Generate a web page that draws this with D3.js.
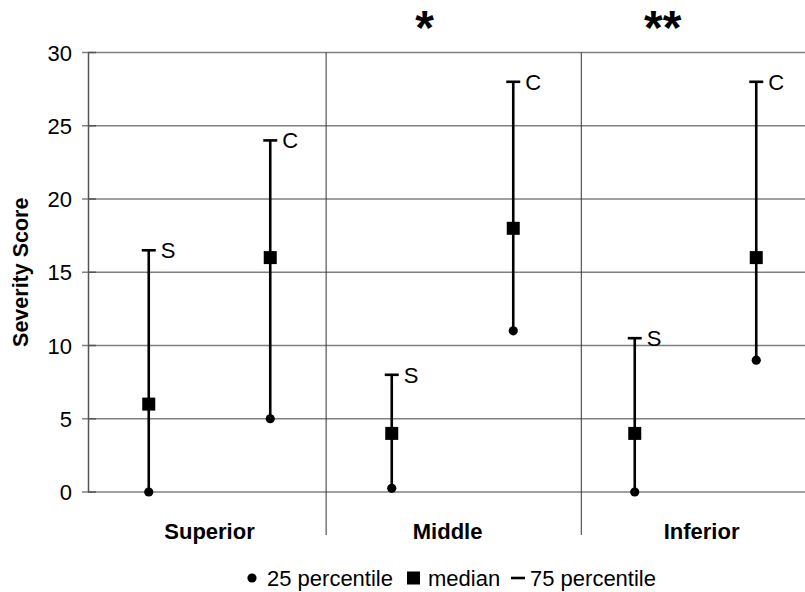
<!DOCTYPE html>
<html>
<head>
  <meta charset="utf-8">
  <script src="https://d3js.org/d3.v7.min.js"></script>
  <style>
    body { margin: 0; background: #fff; }
    svg text { font-family: Arial, "Liberation Sans", sans-serif; fill: #000; }
  </style>
</head>
<body>
<script>
  // locations and groups
  var regions = ["Superior", "Middle", "Inferior"];
  var groups = ["S", "C"];
  // one entry per point, order: Superior S, Superior C, Middle S, Middle C, Inferior S, Inferior C
  var p25 = [0, 5, 0.25, 11, 0, 9];
  var median = [6, 16, 4, 18, 4, 16];
  var p75 = [16.5, 24, 8, 28, 10.5, 28];
  var yTicks = [0, 5, 10, 15, 20, 25, 30];
  // hand-drawn extras, in category-slot units
  var dividers = [1.96, 4.06];
  var regionPos = [1.0, 2.96, 5.05];
  var stars = [{pos: 2.77, text: "*"}, {pos: 4.73, text: "**"}];

  var width = 805, height = 592;
  var margin = {top: 52.5, left: 88, bottom: 100, right: -12};

  var svg = d3.select("body").append("svg")
    .attr("width", width).attr("height", height);

  var x = d3.scaleLinear().domain([0, 6]).range([margin.left, width - margin.right]);
  var y = d3.scaleLinear().domain([0, 30]).range([height - margin.bottom, margin.top]);

  // gridlines
  svg.append("g").selectAll("line").data(yTicks).enter().append("line")
    .attr("x1", margin.left - 6).attr("x2", width)
    .attr("y1", function(d) { return y(d); }).attr("y2", function(d) { return y(d); })
    .attr("stroke", "#808080").attr("stroke-width", 1.3);

  // y axis
  var yAxis = d3.axisLeft(y).tickValues(yTicks).tickSize(0).tickPadding(16);
  var ya = svg.append("g").attr("transform", "translate(" + margin.left + ",0)").call(yAxis);
  ya.select(".domain").attr("stroke", "#555").attr("stroke-width", 1.5);
  ya.selectAll("text").style("font-size", "22px").attr("dy", "0.35em");
  svg.append("g").selectAll("line").data(yTicks).enter().append("line")
    .attr("x1", margin.left).attr("x2", margin.left + 8)
    .attr("y1", function(d) { return y(d); }).attr("y2", function(d) { return y(d); })
    .attr("stroke", "#555").attr("stroke-width", 1.5);

  svg.append("text")
    .attr("transform", "translate(28," + y(15) + ") rotate(-90)")
    .attr("text-anchor", "middle")
    .style("font-size", "21.5px").style("font-weight", "bold")
    .text("Severity Score");

  // dividers between regions
  svg.append("g").selectAll("line").data(dividers).enter().append("line")
    .attr("x1", function(d) { return x(d); }).attr("x2", function(d) { return x(d); })
    .attr("y1", y(30)).attr("y2", y(0) + 43)
    .attr("stroke", "#333").attr("stroke-width", 1);

  // region labels
  svg.append("g").selectAll("text").data(regions).enter().append("text")
    .attr("x", function(d, i) { return x(regionPos[i]); })
    .attr("y", y(0) + 47)
    .attr("text-anchor", "middle")
    .style("font-size", "22px").style("font-weight", "bold")
    .text(function(d) { return d; });

  // significance stars
  svg.append("g").selectAll("text").data(stars).enter().append("text")
    .attr("x", function(d) { return x(d.pos); })
    .attr("y", 44)
    .attr("text-anchor", "middle")
    .style("font-size", "48px").style("font-weight", "bold")
    .text(function(d) { return d.text; });

  // range whiskers
  var pts = svg.append("g").selectAll("g").data(median).enter().append("g");
  pts.append("line")
    .attr("x1", function(d, i) { return x(i + 0.5); }).attr("x2", function(d, i) { return x(i + 0.5); })
    .attr("y1", function(d, i) { return y(p25[i]); }).attr("y2", function(d, i) { return y(p75[i]); })
    .attr("stroke", "#000").attr("stroke-width", 2.6);
  // 75 percentile cap
  pts.append("line")
    .attr("x1", function(d, i) { return x(i + 0.5) - 7; }).attr("x2", function(d, i) { return x(i + 0.5) + 7; })
    .attr("y1", function(d, i) { return y(p75[i]); }).attr("y2", function(d, i) { return y(p75[i]); })
    .attr("stroke", "#000").attr("stroke-width", 2.6);
  // 25 percentile dot
  pts.append("circle")
    .attr("cx", function(d, i) { return x(i + 0.5); })
    .attr("cy", function(d, i) { return y(p25[i]); })
    .attr("r", 4.6).attr("fill", "#000");
  // median square
  pts.append("rect")
    .attr("x", function(d, i) { return x(i + 0.5) - 6.5; })
    .attr("y", function(d) { return y(d) - 6.5; })
    .attr("width", 13).attr("height", 13).attr("fill", "#000");
  // group label
  pts.append("text")
    .attr("x", function(d, i) { return x(i + 0.5) + 12; })
    .attr("y", function(d, i) { return y(p75[i]) + 8; })
    .style("font-size", "22px")
    .text(function(d, i) { return groups[i % 2]; });

  // legend
  var ly = 578;
  var lg = svg.append("g");
  lg.append("circle").attr("cx", 252).attr("cy", ly).attr("r", 4.6).attr("fill", "#000");
  lg.append("text").attr("x", 267).attr("y", ly + 8).style("font-size", "22px").text("25 percentile");
  lg.append("rect").attr("x", 407).attr("y", ly - 6.5).attr("width", 13).attr("height", 13).attr("fill", "#000");
  lg.append("text").attr("x", 428).attr("y", ly + 8).style("font-size", "22px").text("median");
  lg.append("line").attr("x1", 511).attr("x2", 525).attr("y1", ly).attr("y2", ly)
    .attr("stroke", "#000").attr("stroke-width", 2.6);
  lg.append("text").attr("x", 530).attr("y", ly + 8).style("font-size", "22px").text("75 percentile");
</script>
</body>
</html>
